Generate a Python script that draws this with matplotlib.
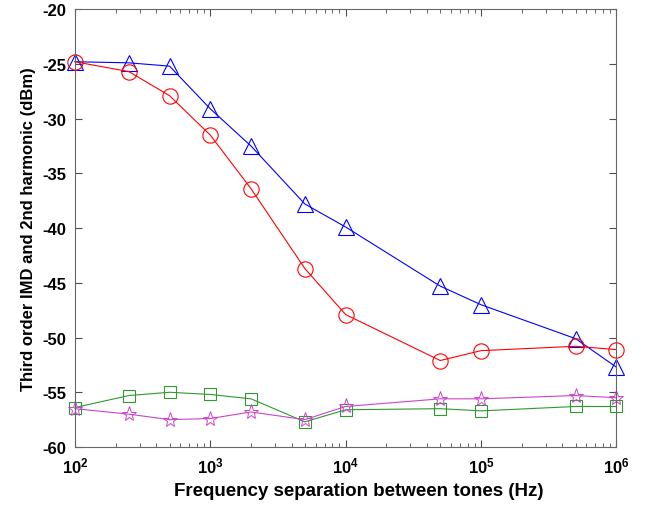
import matplotlib.pyplot as plt

plt.rcParams['font.family'] = ['Liberation Sans', 'DejaVu Sans']
plt.rcParams['font.weight'] = 'bold'
plt.rcParams['axes.unicode_minus'] = False
plt.rcParams['mathtext.fontset'] = 'custom'
plt.rcParams['mathtext.rm'] = 'Liberation Sans:bold'
plt.rcParams['mathtext.bf'] = 'Liberation Sans:bold'
plt.rcParams['mathtext.it'] = 'Liberation Sans:bold'

freq = [100, 250, 500, 1000, 2000, 5000, 10000, 50000, 100000, 500000, 1000000]

# third order IMD / 2nd harmonic (dBm)
tri = [-24.8, -24.9, -25.2, -29.1, -32.5, -37.8, -39.9, -45.3, -47.0, -50.1, -52.7]
circ = [-24.8, -25.7, -27.9, -31.5, -36.4, -43.7, -47.9, -52.1, -51.2, -50.8, -51.1]
sq = [-56.4, -55.3, -55.0, -55.2, -55.6, -57.7, -56.6, -56.5, -56.7, -56.3, -56.3]
star = [-56.5, -57.0, -57.5, -57.4, -56.8, -57.5, -56.3, -55.6, -55.6, -55.3, -55.5]

fig = plt.figure(figsize=(6.46, 5.10), dpi=100)
ax = fig.add_axes([0.116, 0.1216, 0.838, 0.8584])

lw = 0.8
ax.semilogx(freq, tri, '-^', color='b', mfc='none', ms=12, lw=lw, mew=0.8, clip_on=False)
ax.semilogx(freq, circ, '-o', color='r', mfc='none', ms=11, lw=lw, mew=0.8, clip_on=False)
ax.semilogx(freq, sq, '-s', color='#2e9a2e', mfc='none', ms=9, lw=lw, mew=0.8, clip_on=False)
ax.semilogx(freq, star, '-*', color='#cc44cc', mfc='none', ms=11, lw=lw, mew=0.7, clip_on=False)

ax.set_xlim(100, 1e6)
ax.set_ylim(-60, -20)
ax.set_yticks(range(-60, -19, 5))
ax.tick_params(which='both', direction='in', top=True, right=True, labelsize=12, color='0.3')
ax.tick_params(which='major', length=5, pad=6)
ax.tick_params(which='minor', length=3)
for s in ax.spines.values():
    s.set_color('0.4')

ax.set_xlabel('Frequency separation between tones (Hz)', fontsize=13.5, fontweight='bold')
ax.xaxis.set_label_coords(0.525, -0.080)
ax.set_ylabel('Third order IMD and 2nd harmonic (dBm)', fontsize=12, fontweight='bold', labelpad=5)

fig.savefig('out.png', dpi=100)
